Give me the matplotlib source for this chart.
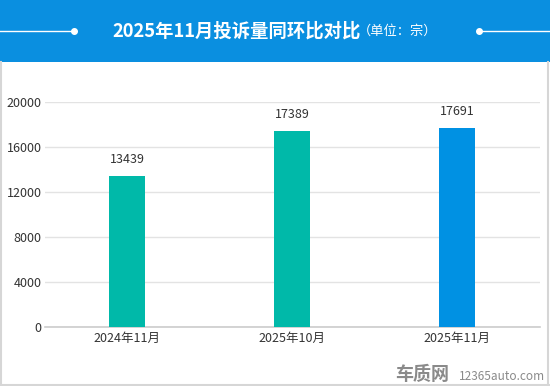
import matplotlib.pyplot as plt
from matplotlib.patches import Rectangle
from matplotlib.lines import Line2D

plt.rcParams['font.family'] = ['Noto Sans CJK SC', 'DejaVu Sans']

months = ["2024年11月", "2025年10月", "2025年11月"]
complaints = [13439, 17389, 17691]
bar_colors = ["#00b9a9", "#00b9a9", "#0091e3"]
yticks = [0, 4000, 8000, 12000, 16000, 20000]

fig = plt.figure(figsize=(5.5, 3.86), dpi=100)
W, H = 550, 386

# header band
fig.patches.append(Rectangle((0, 1 - 62 / H), 1, 62 / H, transform=fig.transFigure,
                             facecolor="#0a8fe0", edgecolor="none", zorder=0))
ly = 1 - 31 / H
fig.add_artist(Line2D([0, 74 / W], [ly, ly], color="white", lw=1.0))
fig.add_artist(Line2D([74 / W], [ly], marker="o", ms=4, color="white"))
fig.add_artist(Line2D([479 / W, 1], [ly, ly], color="white", lw=1.0))
fig.add_artist(Line2D([479 / W], [ly], marker="o", ms=4, color="white"))
fig.text(112 / W, ly, "2025年11月投诉量同环比对比", color="white", fontsize=13.2,
         fontweight="bold", ha="left", va="center")
fig.text(358 / W, ly, "（单位：宗）", color="white", fontsize=9.5,
         ha="left", va="center")

# panel border
bc = "#d6d6d6"
fig.add_artist(Line2D([1 / W, 1 / W], [0, 1 - 62 / H], color=bc, lw=1.5))
fig.add_artist(Line2D([548 / W, 548 / W], [0, 1 - 62 / H], color=bc, lw=1.5))
fig.add_artist(Line2D([0, 1], [1.5 / H, 1.5 / H], color=bc, lw=1.5))

ax = fig.add_axes([44.5 / W, 59.3 / H, 495 / W, 225 / H])
x = range(len(months))
bars = ax.bar(x, complaints, width=0.22, color=bar_colors, zorder=3)
for xi, v in zip(x, complaints):
    ax.annotate(str(v), (xi, v), xytext=(0, 7), textcoords="offset points",
                ha="center", va="bottom", fontsize=9, color="#333333")

ax.set_xlim(-0.5, 2.5)
ax.set_ylim(0, 20000)
ax.set_yticks(yticks)
ax.set_yticklabels([str(t) for t in yticks])
ax.set_xticks(list(x))
ax.set_xticklabels(months)
ax.tick_params(axis="both", length=0, labelsize=9, colors="#333333")
ax.tick_params(axis="y", pad=2)
ax.tick_params(axis="x", pad=4)
ax.grid(axis="y", color="#e3e3e3", lw=1, zorder=0)
for s in ["top", "left", "right"]:
    ax.spines[s].set_visible(False)
ax.spines["bottom"].set_color("#cccccc")
ax.spines["bottom"].set_linewidth(1.2)

# watermark
fig.text(395 / W, 11 / H, "车质网", color="#8a8a8a", fontsize=13, fontweight="bold",
         ha="left", va="center", style="italic")
fig.text(459 / W, 10 / H, "12365auto.com", color="#8a8a8a", fontsize=8.5,
         ha="left", va="center")

fig.savefig("out.png", dpi=100)
